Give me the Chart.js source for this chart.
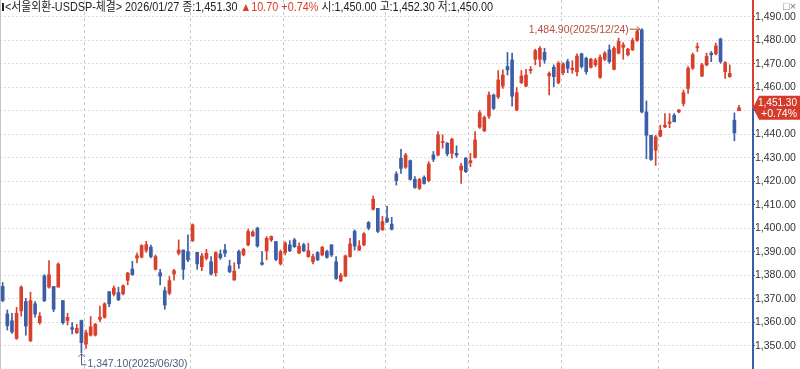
<!DOCTYPE html>
<html>
<head>
<meta charset="utf-8">
<script src="https://cdn.jsdelivr.net/npm/chart.js@4.4.1/dist/chart.umd.min.js"></script>
<style>
  html, body { margin: 0; padding: 0; background: #fff; }
  #wrap { position: relative; width: 800px; height: 369px; overflow: hidden; }
  #head { position: absolute; left: 0; top: 0; width: 800px; height: 14px; font: 12px 'Liberation Sans', 'Noto Sans CJK KR', sans-serif; color: #222; white-space: nowrap; }
  #headText { position: absolute; left: 5px; top: 0; line-height: 14px; display: inline-block; transform-origin: 0 0; }
  #headText .up { color: #d6402c; }
  #head .bar { position: absolute; left: 2px; top: 3px; width: 2px; height: 8px; background: #222; }
  #head .win { position: absolute; left: 783px; top: 0; line-height: 12px; color: #777; font-size: 11px; }
</style>
</head>
<body>
<div id="wrap">
  <canvas id="candleChart" width="800" height="369"></canvas>
  <div id="head">
    <span class="bar"></span>
    <span id="headText"></span>
    <span class="win">□×</span>
  </div>
</div>
<script>
// daily candles, 서울외환 USD spot
const dates = [
  '2025/06/04','2025/06/05','2025/06/09','2025/06/10','2025/06/11','2025/06/12','2025/06/13','2025/06/16','2025/06/17','2025/06/18','2025/06/19','2025/06/20','2025/06/23','2025/06/24','2025/06/25','2025/06/26','2025/06/27','2025/06/30',
  '2025/07/01','2025/07/02','2025/07/03','2025/07/04','2025/07/07','2025/07/08','2025/07/09','2025/07/10','2025/07/11','2025/07/14','2025/07/15','2025/07/16','2025/07/17','2025/07/18','2025/07/21','2025/07/22','2025/07/23','2025/07/24','2025/07/25','2025/07/28','2025/07/29','2025/07/30','2025/07/31',
  '2025/08/01','2025/08/04','2025/08/05','2025/08/06','2025/08/07','2025/08/08','2025/08/11','2025/08/12','2025/08/13','2025/08/14','2025/08/18','2025/08/19','2025/08/20','2025/08/21','2025/08/22','2025/08/25','2025/08/26','2025/08/27','2025/08/28','2025/08/29',
  '2025/09/01','2025/09/02','2025/09/03','2025/09/04','2025/09/05','2025/09/08','2025/09/09','2025/09/10','2025/09/11','2025/09/12','2025/09/15','2025/09/16','2025/09/17','2025/09/18','2025/09/19','2025/09/22','2025/09/23','2025/09/24','2025/09/25','2025/09/26','2025/09/29','2025/09/30',
  '2025/10/01','2025/10/02','2025/10/10','2025/10/13','2025/10/14','2025/10/15','2025/10/16','2025/10/17','2025/10/20','2025/10/21','2025/10/22','2025/10/23','2025/10/24','2025/10/27','2025/10/28','2025/10/29','2025/10/30','2025/10/31',
  '2025/11/03','2025/11/04','2025/11/05','2025/11/06','2025/11/07','2025/11/10','2025/11/11','2025/11/12','2025/11/13','2025/11/14','2025/11/17','2025/11/18','2025/11/19','2025/11/20','2025/11/21','2025/11/24','2025/11/25','2025/11/26','2025/11/27','2025/11/28',
  '2025/12/01','2025/12/02','2025/12/03','2025/12/04','2025/12/05','2025/12/08','2025/12/09','2025/12/10','2025/12/11','2025/12/12','2025/12/15','2025/12/16','2025/12/17','2025/12/18','2025/12/19','2025/12/22','2025/12/23','2025/12/24','2025/12/26','2025/12/29','2025/12/30',
  '2026/01/02','2026/01/05','2026/01/06','2026/01/07','2026/01/08','2026/01/09','2026/01/12','2026/01/13','2026/01/14','2026/01/15','2026/01/16','2026/01/19','2026/01/20','2026/01/21','2026/01/22','2026/01/23','2026/01/26','2026/01/27'
];

const opens = [
  1375.3,1363.6,1360.7,1353.2,1364.9,1368.9,1352.2,1367.9,1359.9,1379.8,1375.0,1375.3,1375.0,1369.3,1360.8,1357.8,1355.6,1360.8,
  1350.8,1354.6,1354.6,1361.3,1362.2,1373.1,1372.0,1372.7,1372.2,1377.9,1382.7,1387.4,1387.8,1390.7,1392.0,1382.6,1381.1,1373.5,1372.4,1380.6,1389.4,1390.8,1390.1,
  1394.8,1389.8,1383.7,1387.3,1385.8,1381.1,1389.1,1390.8,1384.0,1378.0,1390.1,1388.7,1393.0,1396.8,1400.1,1385.4,1390.5,1395.1,1394.4,1384.9,
  1389.7,1393.0,1395.1,1389.5,1393.0,1388.0,1385.8,1389.7,1388.7,1390.1,1393.0,1385.8,1377.7,1379.7,1388.0,1398.7,1390.8,1393.0,1402.5,1408.1,1408.5,1399.4,
  1404.3,1401.8,1423.1,1429.8,1426.0,1428.8,1420.8,1417.0,1421.7,1420.3,1431.2,1431.2,1436.5,1436.2,1431.9,1431.9,1424.8,1429.8,
  1427.9,1430.2,1443.0,1441.5,1447.7,1456.7,1455.9,1460.5,1468.8,1471.6,1450.3,1461.9,1460.5,1467.1,1471.9,1471.9,1474.8,1464.8,1468.5,1461.9,
  1466.2,1470.9,1467.4,1466.6,1474.2,1472.3,1468.5,1469.5,1464.2,1471.9,1475.9,1467.6,1474.5,1477.0,1473.8,1475.9,1479.9,1484.4,1449.5,1439.6,1433.2,
  1439.2,1443.1,1444.6,1448.1,1449.5,1453.1,1459.5,1468.1,1476.9,1464.8,1469.5,1474.5,1474.2,1480.5,1466.6,1464.5,1446.0,1450.0
];
const highs = [
  1377.0,1365.3,1363.9,1366.4,1375.6,1370.3,1372.9,1368.9,1364.2,1380.3,1386.3,1375.3,1385.3,1369.3,1363.9,1359.9,1359.2,1361.0,
  1356.8,1362.5,1359.6,1367.0,1368.4,1373.1,1375.6,1375.0,1376.0,1381.3,1386.0,1389.5,1393.1,1394.5,1392.9,1388.7,1382.6,1375.0,1379.5,1382.6,1395.1,1390.8,1397.2,
  1401.9,1389.8,1389.4,1391.1,1388.0,1390.1,1390.8,1393.2,1386.5,1385.4,1390.8,1391.5,1399.7,1399.1,1400.5,1390.1,1396.5,1396.8,1394.4,1390.8,
  1394.4,1394.8,1395.8,1393.9,1393.7,1393.7,1389.1,1390.1,1392.3,1390.8,1393.0,1388.0,1380.9,1388.7,1395.8,1399.4,1394.8,1398.2,1402.9,1413.8,1408.5,1405.1,
  1409.5,1404.7,1424.1,1433.6,1431.9,1429.1,1422.0,1421.3,1422.3,1428.4,1432.7,1441.2,1439.8,1436.5,1438.4,1435.1,1427.7,1430.2,
  1431.9,1441.2,1450.1,1447.8,1458.1,1457.1,1467.1,1467.4,1474.8,1474.5,1459.9,1467.1,1467.6,1468.8,1476.2,1477.3,1476.6,1466.6,1469.5,1470.9,
  1470.5,1471.9,1471.3,1474.2,1474.5,1472.8,1472.3,1472.3,1473.8,1475.2,1478.0,1477.3,1480.9,1479.0,1476.6,1480.9,1484.4,1484.9,1454.2,1439.6,1439.6,
  1443.9,1448.8,1448.8,1448.8,1450.6,1458.8,1468.8,1474.5,1478.8,1470.2,1474.5,1475.2,1478.8,1480.9,1470.9,1469.5,1449.1,1452.3
];
const lows = [
  1368.8,1356.8,1355.3,1352.8,1362.7,1354.6,1351.8,1362.2,1359.2,1368.9,1374.6,1364.6,1375.0,1359.3,1358.9,1355.1,1355.3,1347.1,
  1348.9,1354.2,1354.2,1360.3,1361.8,1366.7,1371.3,1369.3,1371.7,1376.0,1380.0,1385.3,1387.4,1389.8,1387.4,1382.3,1375.9,1365.6,1371.7,1378.0,1388.7,1378.3,1385.8,
  1394.4,1382.6,1382.0,1386.6,1380.1,1379.7,1386.8,1388.0,1381.1,1378.0,1383.0,1388.3,1392.5,1396.5,1392.0,1384.4,1386.6,1394.4,1386.3,1384.4,
  1388.7,1390.1,1391.9,1389.2,1390.1,1387.7,1384.9,1386.3,1388.3,1387.3,1388.0,1378.3,1377.3,1379.4,1387.7,1390.8,1390.5,1392.5,1399.4,1407.8,1398.2,1399.1,
  1402.4,1399.3,1418.4,1423.4,1425.5,1420.5,1417.0,1416.5,1418.8,1419.8,1428.4,1430.8,1434.1,1430.8,1429.8,1430.2,1419.1,1423.7,
  1426.2,1429.8,1442.5,1441.1,1446.7,1450.5,1455.2,1459.5,1465.2,1452.0,1450.0,1461.6,1460.2,1465.9,1469.5,1468.8,1470.2,1456.7,1460.2,1461.4,
  1465.2,1466.2,1465.9,1464.8,1468.1,1465.6,1468.1,1468.8,1463.8,1471.3,1470.2,1467.4,1474.2,1471.9,1473.3,1475.6,1479.5,1449.1,1429.6,1428.9,1426.8,
  1438.9,1442.8,1442.8,1445.3,1449.1,1452.0,1457.4,1467.6,1475.2,1464.5,1469.1,1470.9,1473.8,1470.2,1463.8,1464.2,1437.2,1450.0
];
const closes = [
  1369.3,1358.6,1356.0,1363.9,1375.0,1358.5,1369.3,1363.6,1362.7,1369.2,1380.3,1365.6,1384.8,1359.9,1362.2,1357.1,1357.5,1351.4,
  1355.6,1358.2,1359.2,1362.2,1367.9,1367.9,1374.6,1369.6,1375.6,1381.0,1380.3,1388.4,1392.7,1393.1,1388.0,1388.0,1379.7,1367.4,1377.8,1382.0,1390.8,1382.6,1386.6,
  1401.5,1384.9,1388.3,1389.4,1380.6,1389.7,1387.5,1389.4,1381.6,1381.8,1384.9,1391.1,1398.7,1398.4,1392.5,1384.7,1395.8,1396.5,1386.8,1390.1,
  1393.7,1390.5,1392.2,1392.4,1390.5,1390.5,1388.0,1386.6,1392.0,1387.7,1388.7,1378.7,1380.1,1388.3,1393.4,1392.5,1392.5,1397.7,1400.1,1412.4,1398.7,1402.9,
  1402.8,1399.6,1420.3,1425.5,1431.2,1420.8,1417.4,1420.8,1419.1,1427.4,1429.4,1439.8,1436.9,1431.7,1437.9,1431.2,1426.5,1424.1,
  1428.8,1437.6,1449.2,1447.2,1456.7,1451.0,1463.1,1465.2,1467.4,1456.2,1457.7,1464.8,1465.2,1467.6,1475.6,1476.6,1471.6,1465.9,1464.5,1470.2,
  1469.9,1468.1,1468.1,1473.3,1468.8,1466.6,1471.9,1471.6,1472.8,1474.5,1470.9,1476.6,1479.5,1478.0,1476.2,1479.9,1483.7,1449.5,1439.6,1429.3,1438.9,
  1441.7,1443.9,1445.3,1445.3,1450.3,1457.7,1468.1,1473.8,1477.3,1469.5,1473.1,1473.8,1477.6,1470.9,1470.5,1465.9,1440.6,1451.3
];

const yTicks = [1350, 1360, 1370, 1380, 1390, 1400, 1410, 1420, 1430, 1440, 1450, 1460, 1470, 1480, 1490];

const UP = '#d9402b';
const DOWN = '#3b5ea6';
const FONT = "'Liberation Sans', 'Noto Sans CJK KR', sans-serif";

function fmt(v) {
  return v.toLocaleString('en-US', { minimumFractionDigits: 2, maximumFractionDigits: 2 });
}

const colors = closes.map((c, i) => c >= opens[i] ? UP : DOWN);

// header line
const n = closes.length;
const last = n - 1;
const chg = closes[last] - closes[last - 1];
const pct = '+' + (chg / closes[last - 1] * 100).toFixed(2) + '%';
const head = document.getElementById('headText');
head.innerHTML = '&lt;서울외환-USDSP-체결&gt; ' + dates[last] + ' 종:' + fmt(closes[last]) +
  ' <span class="up">▲' + fmt(chg) + ' ' + pct + '</span> 시:' + fmt(opens[last]) +
  ' 고:' + fmt(highs[last]) + ' 저:' + fmt(lows[last]);
head.style.transform = 'scaleX(' + (488 / head.getBoundingClientRect().width) + ')';

const overlay = {
  id: 'overlay',
  beforeDatasetsDraw(chart) {
    const { ctx, chartArea: a, scales: { x } } = chart;
    ctx.save();
    // month separators
    ctx.strokeStyle = '#c8c8c8';
    ctx.lineWidth = 1;
    ctx.setLineDash([3, 3]);
    for (let i = 1; i < n; i++) {
      if (dates[i].slice(0, 7) !== dates[i - 1].slice(0, 7)) {
        const px = Math.round((x.getPixelForValue(i - 1) + x.getPixelForValue(i)) / 2) + 0.5;
        ctx.beginPath();
        ctx.moveTo(px, a.top);
        ctx.lineTo(px, a.bottom);
        ctx.stroke();
      }
    }
    ctx.setLineDash([]);
    ctx.strokeStyle = '#c4c4c4';
    ctx.beginPath();
    ctx.moveTo(a.left + 0.5, a.top);
    ctx.lineTo(a.left + 0.5, a.bottom);
    ctx.stroke();
    ctx.restore();
  },
  afterDraw(chart) {
    const { ctx, chartArea: a, scales: { x, y } } = chart;
    ctx.save();
    const yp = y.getPixelForValue(closes[last]);
    const ax = a.right + 1;

    // axis line, red above the last price and blue below
    ctx.lineWidth = 2;
    ctx.strokeStyle = UP;
    ctx.beginPath(); ctx.moveTo(ax, a.top); ctx.lineTo(ax, yp); ctx.stroke();
    ctx.strokeStyle = DOWN;
    ctx.beginPath(); ctx.moveTo(ax, yp); ctx.lineTo(ax, a.bottom); ctx.stroke();

    // last price box
    ctx.fillStyle = '#d43b2a';
    ctx.beginPath();
    ctx.moveTo(ax, yp);
    ctx.lineTo(ax + 6, yp - 12);
    ctx.lineTo(800, yp - 12);
    ctx.lineTo(800, yp + 12);
    ctx.lineTo(ax + 6, yp + 12);
    ctx.closePath();
    ctx.fill();
    ctx.fillStyle = '#fff';
    ctx.font = '10.5px ' + FONT;
    ctx.textAlign = 'right';
    ctx.textBaseline = 'middle';
    ctx.fillText(fmt(closes[last]), 797, yp - 5, 39);
    ctx.fillText(pct, 797, yp + 6, 39);

    // max / min marks
    let hi = 0, lo = 0;
    for (let i = 1; i < n; i++) {
      if (highs[i] > highs[hi]) hi = i;
      if (lows[i] < lows[lo]) lo = i;
    }
    ctx.font = '11px ' + FONT;
    let px = x.getPixelForValue(hi);
    let py = y.getPixelForValue(highs[hi]);
    ctx.strokeStyle = ctx.fillStyle = '#b4503c';
    ctx.lineWidth = 1;
    ctx.textAlign = 'right';
    ctx.fillText(fmt(highs[hi]) + '(' + dates[hi] + ')', px - 13, py + 1, 100);
    ctx.beginPath(); ctx.moveTo(px - 12, py + 0.5); ctx.lineTo(px - 2, py + 0.5); ctx.stroke();
    ctx.beginPath(); ctx.moveTo(px - 5, py - 2.5); ctx.lineTo(px - 2, py + 0.5); ctx.lineTo(px - 5, py + 3.5); ctx.stroke();

    px = Math.round(x.getPixelForValue(lo)) + 0.5;
    py = y.getPixelForValue(lows[lo]);
    ctx.strokeStyle = ctx.fillStyle = '#4d5d7e';
    ctx.beginPath(); ctx.moveTo(px, py + 1); ctx.lineTo(px, py + 12); ctx.lineTo(px + 5, py + 12); ctx.stroke();
    ctx.beginPath(); ctx.moveTo(px - 3, py + 4); ctx.lineTo(px, py + 1); ctx.lineTo(px + 3, py + 4); ctx.stroke();
    ctx.textAlign = 'left';
    ctx.fillText(fmt(lows[lo]) + '(' + dates[lo] + ')', px + 6, py + 11, 100);
    ctx.restore();
  }
};

const ctx = document.getElementById('candleChart').getContext('2d');
const myChart = new Chart(ctx, {
  type: 'bar',
  data: {
    datasets: [{
      label: 'body',
      data: closes.map((c, i) => ({ x: i, y: [opens[i], c] })),
      backgroundColor: colors,
      barThickness: 3,
      minBarLength: 1,
      grouped: false,
      order: 1
    }, {
      label: 'wick',
      data: highs.map((h, i) => ({ x: i, y: [lows[i], h] })),
      backgroundColor: colors,
      barThickness: 1,
      minBarLength: 1,
      grouped: false,
      order: 2
    }]
  },
  options: {
    responsive: false,
    animation: false,
    devicePixelRatio: 1,
    layout: { padding: 0 },
    plugins: { legend: { display: false }, tooltip: { enabled: false } },
    scales: {
      x: { type: 'linear', min: -0.58, max: 161.8, offset: false, display: false },
      y: {
        position: 'right',
        min: 1340.2,
        max: 1497.1,
        afterBuildTicks: (axis) => { axis.ticks = yTicks.map(v => ({ value: v })); },
        afterFit: (axis) => { axis.width = 48; axis.paddingTop = 0; axis.paddingBottom = 0; },
        ticks: {
          callback: (v) => fmt(v),
          color: '#333',
          padding: 0,
          font: { family: FONT, size: 10.5 }
        },
        grid: { color: '#dcdcdc', tickLength: 3, tickColor: '#555', tickBorderDash: [] },
        border: { display: false, dash: [2, 2] }
      }
    }
  },
  plugins: [overlay]
});
</script>
</body>
</html>
